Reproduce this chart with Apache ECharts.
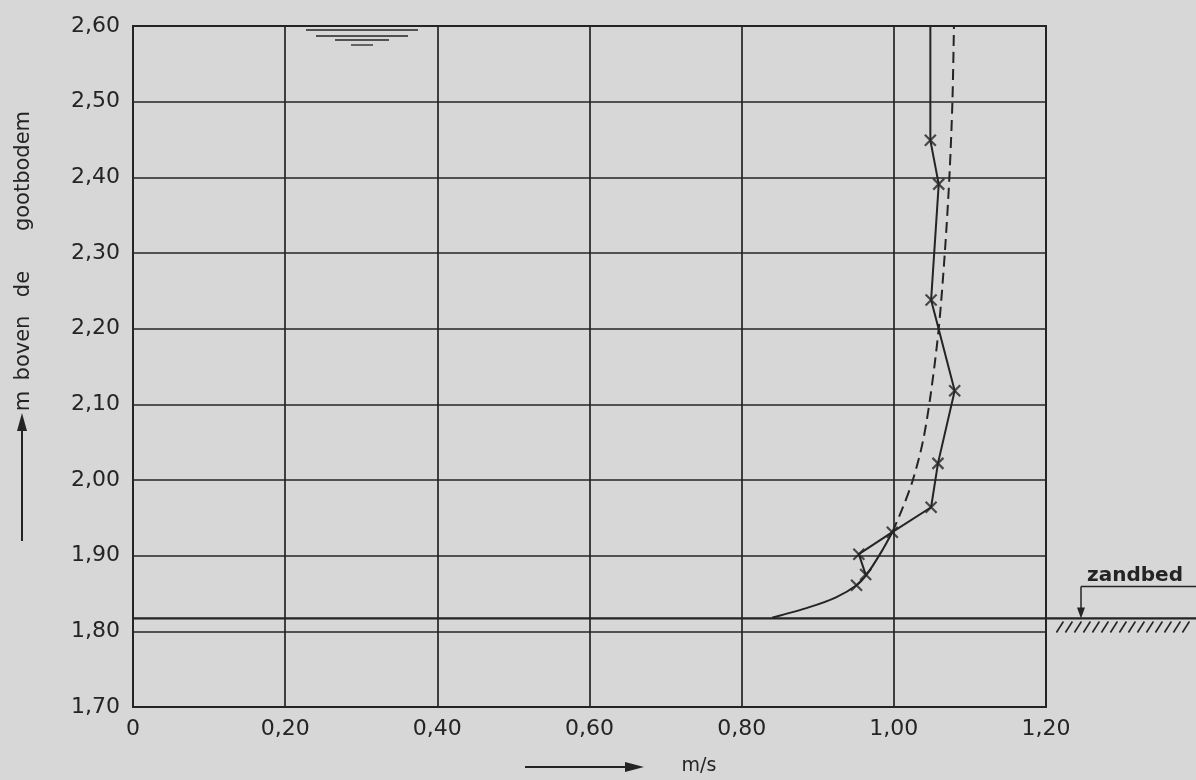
<!DOCTYPE html>
<html>
<head>
<meta charset="utf-8">
<script src="https://cdn.jsdelivr.net/npm/echarts@6/dist/echarts.min.js"></script>
<style>
html,body{margin:0;padding:0;background:#d7d7d7;}
#c{width:1196px;height:780px;}
</style>
</head>
<body>
<div id="c"></div>
<script>
// ---- data ----
const xTicks = [0, 0.2, 0.4, 0.6, 0.8, 1.0, 1.2];
const yTicks = [1.7, 1.8, 1.9, 2.0, 2.1, 2.2, 2.3, 2.4, 2.5, 2.6];
// measured velocity profile (m/s) vs height (m above flume bottom)
const measuredVel = [1.048, 1.048, 1.059, 1.049, 1.080, 1.058, 1.049, 0.998, 0.954, 0.963];
const measuredH   = [2.600, 2.449, 2.391, 2.238, 2.118, 2.022, 1.964, 1.931, 1.902, 1.875];
// x-marked measurement points
const markVel = [1.048, 1.059, 1.049, 1.080, 1.058, 1.049, 0.998, 0.954, 0.963, 0.951];
const markH   = [2.449, 2.391, 2.238, 2.118, 2.022, 1.964, 1.931, 1.902, 1.875, 1.861];
// lower part of the fitted profile (solid)
const curveVel = [0.840, 0.889, 0.924, 0.951, 0.965, 0.983, 0.998];
const curveH   = [1.818, 1.832, 1.845, 1.861, 1.876, 1.904, 1.931];
// upper part of the fitted profile (dashed)
const dashVel = [0.998, 1.012, 1.025, 1.038, 1.048, 1.059, 1.067, 1.073, 1.077, 1.079];
const dashH   = [1.931, 1.964, 2.000, 2.050, 2.110, 2.200, 2.300, 2.400, 2.500, 2.600];
// sand bed level and water surface
const sandBedLevel = 1.817;
const sandBedEnd = 1.40;
const sandLabelVel = 1.246;
const hatchRange = [1.215, 1.39];
const waterSurfaceVel = 0.301;
const waterSurfaceLevel = 2.60;

const zip = (a, b) => a.map((v, i) => [v, b[i]]);
const fmt = v => (Math.abs(v) < 1e-9 ? '0' : v.toFixed(2).replace('.', ','));
const INK = '#242424';
const FONT = '"DejaVu Sans", sans-serif';

const chart = echarts.init(document.getElementById('c'), null, {renderer: 'canvas'});

const option = {
  animation: false,
  backgroundColor: '#d7d7d7',
  grid: {left: 133, right: 150, top: 26, bottom: 73, show: true,
         borderColor: INK, borderWidth: 2, backgroundColor: 'transparent'},
  xAxis: {
    type: 'value', min: xTicks[0], max: xTicks[xTicks.length - 1], interval: 0.2,
    axisLine: {show: true, lineStyle: {color: INK, width: 2}},
    axisTick: {show: false},
    splitLine: {show: true, lineStyle: {color: INK, width: 1.7}},
    axisLabel: {formatter: fmt, color: INK, fontSize: 22, fontFamily: FONT, margin: 11}
  },
  yAxis: {
    type: 'value', min: yTicks[0], max: yTicks[yTicks.length - 1], interval: 0.1,
    axisLine: {show: true, lineStyle: {color: INK, width: 2}},
    axisTick: {show: false},
    splitLine: {show: true, lineStyle: {color: INK, width: 1.7}},
    axisLabel: {formatter: fmt, color: INK, fontSize: 22, fontFamily: FONT, margin: 13}
  },
  series: [
    { // sand bed line, running out of the plot to the right
      type: 'custom', clip: false, silent: true, z: 3,
      data: [[0, sandBedLevel, sandBedEnd]],
      renderItem: function (params, api) {
        const a = api.coord([api.value(0), api.value(1)]);
        const b = api.coord([api.value(2), api.value(1)]);
        return {type: 'line', shape: {x1: a[0], y1: a[1], x2: b[0], y2: b[1]},
                style: {stroke: INK, lineWidth: 2.2}};
      }
    },
    { // measured profile
      type: 'line', data: zip(measuredVel, measuredH), showSymbol: false,
      lineStyle: {color: INK, width: 2}, z: 4
    },
    { // fitted profile, lower solid part
      type: 'line', data: zip(curveVel, curveH), smooth: 0.3, showSymbol: false,
      lineStyle: {color: INK, width: 2}, z: 4
    },
    { // fitted profile, dashed part
      type: 'line', data: zip(dashVel, dashH), smooth: 0.3, showSymbol: false,
      lineStyle: {color: INK, width: 2, type: [11, 6]}, z: 4
    },
    { // x markers
      type: 'scatter', data: zip(markVel, markH),
      symbol: 'path://M0,0L10,10M10,0L0,10', symbolSize: 11,
      itemStyle: {color: 'none', borderColor: INK, borderWidth: 2.2}, z: 5
    },
    { // hatch under sand bed (outside plot)
      type: 'custom', clip: false, silent: true, z: 3,
      data: [[hatchRange[0], sandBedLevel, hatchRange[1]]],
      renderItem: function (params, api) {
        const p0 = api.coord([api.value(0), api.value(1)]);
        const p1 = api.coord([api.value(2), api.value(1)]);
        const children = [];
        for (let x = p0[0] + 6; x < p1[0]; x += 9) {
          children.push({type: 'line', shape: {x1: x, y1: p0[1] + 3, x2: x - 7, y2: p0[1] + 14},
                         style: {stroke: INK, lineWidth: 1.6}});
        }
        return {type: 'group', children: children};
      }
    },
    { // zandbed label with arrow (outside plot)
      type: 'custom', clip: false, silent: true, z: 3,
      data: [[sandLabelVel, sandBedLevel]],
      renderItem: function (params, api) {
        const p = api.coord([api.value(0), api.value(1)]);
        const top = p[1] - 32;
        return {type: 'group', children: [
          {type: 'line', shape: {x1: p[0], y1: top, x2: p[0], y2: p[1] - 6}, style: {stroke: INK, lineWidth: 1.5}},
          {type: 'polygon', shape: {points: [[p[0], p[1]], [p[0] - 4, p[1] - 11], [p[0] + 4, p[1] - 11]]}, style: {fill: INK}},
          {type: 'line', shape: {x1: p[0], y1: top, x2: 1196, y2: top}, style: {stroke: INK, lineWidth: 1.5}},
          {type: 'text', x: p[0] + 54, y: top - 11,
           style: {text: 'zandbed', fill: INK, font: 'bold 20px ' + FONT, align: 'center', verticalAlign: 'middle'}}
        ]};
      }
    },
    { // water surface symbol
      type: 'custom', clip: false, silent: true, z: 3,
      data: [[waterSurfaceVel, waterSurfaceLevel]],
      renderItem: function (params, api) {
        const p = api.coord([api.value(0), api.value(1)]);
        const rows = [[4, 56], [10, 46], [14, 27], [19, 11]];
        return {type: 'group', children: rows.map(r => ({
          type: 'line', shape: {x1: p[0] - r[1], y1: p[1] + r[0], x2: p[0] + r[1], y2: p[1] + r[0]},
          style: {stroke: INK, lineWidth: 1.3}
        }))};
      }
    }
  ],
  graphic: [
    {type: 'text', x: 24, y: 171, rotation: Math.PI / 2,
     style: {text: 'gootbodem', fill: INK, font: '21px ' + FONT, align: 'center', verticalAlign: 'middle'}},
    {type: 'text', x: 24, y: 284, rotation: Math.PI / 2,
     style: {text: 'de', fill: INK, font: '21px ' + FONT, align: 'center', verticalAlign: 'middle'}},
    {type: 'text', x: 24, y: 348, rotation: Math.PI / 2,
     style: {text: 'boven', fill: INK, font: '21px ' + FONT, align: 'center', verticalAlign: 'middle'}},
    {type: 'text', x: 24, y: 401, rotation: Math.PI / 2,
     style: {text: 'm', fill: INK, font: '21px ' + FONT, align: 'center', verticalAlign: 'middle'}},
    {type: 'line', shape: {x1: 22, y1: 541, x2: 22, y2: 424}, style: {stroke: INK, lineWidth: 2}},
    {type: 'polygon', shape: {points: [[22, 413], [17, 431], [27, 431]]}, style: {fill: INK}},
    {type: 'line', shape: {x1: 525, y1: 767, x2: 630, y2: 767}, style: {stroke: INK, lineWidth: 2}},
    {type: 'polygon', shape: {points: [[644, 767], [625, 762], [625, 772]]}, style: {fill: INK}},
    {type: 'text', x: 699, y: 766,
     style: {text: 'm/s', fill: INK, font: '19px ' + FONT, align: 'center', verticalAlign: 'middle'}}
  ]
};
chart.setOption(option);
</script>
</body>
</html>
